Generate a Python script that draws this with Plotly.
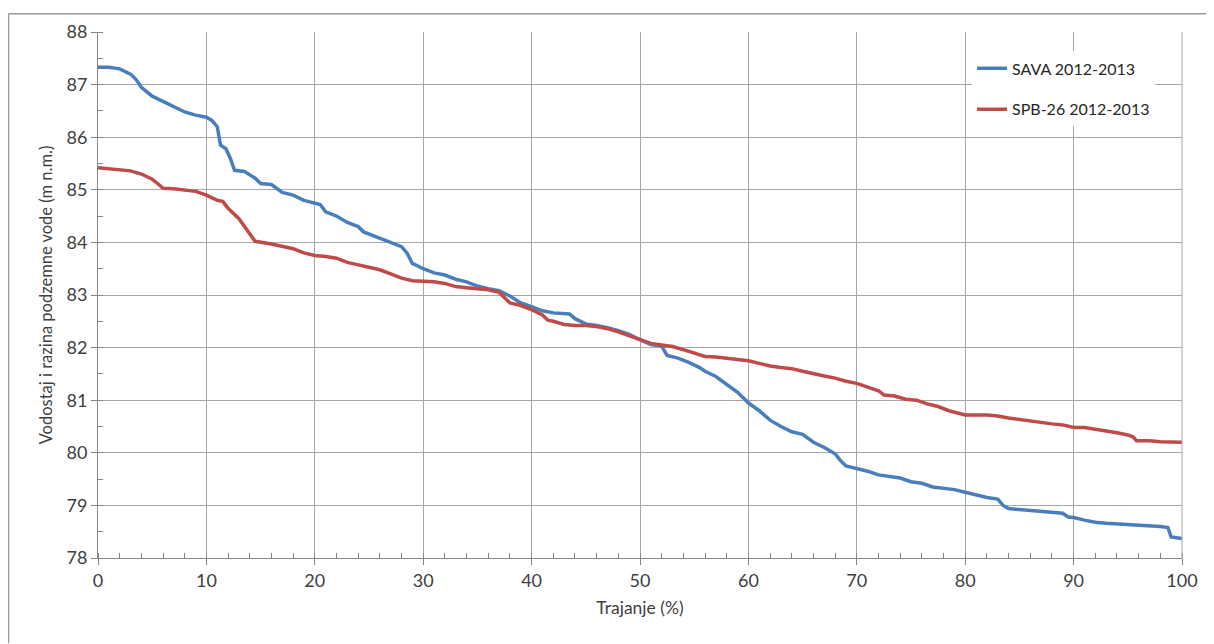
import plotly.graph_objects as go

# SAVA 2012-2013
sava_x = [0, 1, 2, 3, 3.5, 4, 5, 6, 7, 8, 9, 10, 10.5, 11, 11.3, 11.8, 12.2, 12.6, 13.5, 14.5,
          15, 16, 17, 18, 19, 20, 20.5, 21, 22, 23, 24, 24.5, 25.5, 27, 28, 28.5, 29, 30, 31, 32,
          33, 34, 35, 36, 37, 38, 39, 40, 41, 42, 43.5, 44, 45, 46, 47, 48, 49, 50, 51, 52,
          52.5, 53.5, 54.5, 55.5, 56, 57, 58, 59, 60, 61, 62, 63, 64, 65, 66, 67, 68, 68.5, 69, 70,
          71, 72, 73, 74, 75, 76, 77, 78, 79, 80, 81, 82, 83, 83.5, 84, 85, 86, 87, 88, 89,
          89.5, 90, 91, 92, 93, 94, 95, 96, 97, 98, 98.7, 99, 100]
sava_y = [87.33, 87.33, 87.30, 87.20, 87.10, 86.95, 86.78, 86.68, 86.58, 86.48, 86.42, 86.38, 86.32, 86.20, 85.85, 85.78, 85.60, 85.37, 85.35, 85.22,
          85.12, 85.10, 84.95, 84.90, 84.80, 84.75, 84.72, 84.58, 84.50, 84.38, 84.30, 84.20, 84.12, 84.00, 83.92, 83.80, 83.60, 83.50, 83.42, 83.38,
          83.30, 83.25, 83.17, 83.12, 83.08, 82.98, 82.85, 82.78, 82.70, 82.66, 82.64, 82.55, 82.45, 82.42, 82.38, 82.32, 82.25, 82.15, 82.06, 82.03,
          81.85, 81.80, 81.72, 81.62, 81.55, 81.45, 81.30, 81.15, 80.95, 80.80, 80.62, 80.50, 80.40, 80.35, 80.20, 80.10, 79.98, 79.85, 79.75, 79.70,
          79.65, 79.58, 79.55, 79.52, 79.45, 79.42, 79.35, 79.33, 79.30, 79.25, 79.20, 79.15, 79.12, 79.00, 78.94, 78.92, 78.90, 78.88, 78.87, 78.85,
          78.78, 78.77, 78.72, 78.68, 78.66, 78.65, 78.63, 78.62, 78.61, 78.60, 78.58, 78.40, 78.37]

# SPB-26 2012-2013
spb_x = [0, 1, 2, 3, 4, 5, 5.5, 6, 7, 8, 9, 10, 11, 11.5, 12, 13, 13.5, 14, 14.5, 16,
         17, 18, 19, 20, 21, 22, 23, 24, 25, 26, 27, 28, 29, 30, 31, 32, 33, 34, 35, 36,
         37, 37.5, 38, 39, 40, 41, 41.5, 42, 43, 44, 45, 46, 47, 48, 49, 50, 51, 52, 53, 54,
         55, 56, 57, 58, 59, 60, 61, 62, 63, 64, 65, 66, 67, 68, 69, 70, 71, 72, 72.5, 73.5,
         74.5, 75.5, 76.5, 77.5, 78.5, 79.5, 80, 82, 83, 84, 85, 86, 87, 88, 89, 89.8, 90, 91, 92, 92.5,
         94, 95, 95.5, 95.8, 97, 98, 100]
spb_y = [85.42, 85.40, 85.38, 85.36, 85.30, 85.20, 85.12, 85.03, 85.02, 85.00, 84.97, 84.90, 84.80, 84.78, 84.65, 84.45, 84.30, 84.15, 84.02, 83.97,
         83.92, 83.88, 83.80, 83.75, 83.73, 83.70, 83.62, 83.57, 83.53, 83.48, 83.40, 83.32, 83.27, 83.26, 83.25, 83.22, 83.16, 83.14, 83.12, 83.10,
         83.05, 82.95, 82.85, 82.80, 82.72, 82.62, 82.52, 82.50, 82.44, 82.42, 82.42, 82.40, 82.36, 82.30, 82.22, 82.15, 82.08, 82.05, 82.02, 81.96,
         81.90, 81.83, 81.82, 81.80, 81.78, 81.75, 81.70, 81.65, 81.62, 81.60, 81.55, 81.50, 81.46, 81.42, 81.36, 81.32, 81.25, 81.18, 81.10, 81.08,
         81.02, 81.00, 80.93, 80.88, 80.80, 80.75, 80.72, 80.72, 80.70, 80.66, 80.63, 80.60, 80.57, 80.55, 80.53, 80.50, 80.48, 80.48, 80.45, 80.42,
         80.38, 80.34, 80.30, 80.23, 80.23, 80.21, 80.20]

series_names = ["SAVA 2012-2013", "SPB-26 2012-2013"]
x_ticks = [0, 10, 20, 30, 40, 50, 60, 70, 80, 90, 100]
y_ticks = [78, 79, 80, 81, 82, 83, 84, 85, 86, 87, 88]

FONT = "Lato, 'Open Sans', sans-serif"
# page body has an 8px margin, so the figure is shrunk accordingly
W, H = 1206, 636
L, R, T, B = 90, 32, 19, 86
pw, ph = W - L - R, H - T - B

def px2paper(px, py):
    # px, py in figure coordinates
    return (px - L) / pw, 1 - (py - T) / ph

fig = go.Figure()
fig.add_trace(go.Scatter(x=sava_x, y=sava_y, mode="lines", name=series_names[0],
                         line=dict(color="#4A7EBB", width=3.5), legendgroup="a"))
fig.add_trace(go.Scatter(x=spb_x, y=spb_y, mode="lines", name=series_names[1],
                         line=dict(color="#BE4B48", width=3.5), legendgroup="b"))

# outer chart border (top and left visible)
x0, y0 = px2paper(0.5, H)
x1, y1 = px2paper(0.5, 0.5)
x2, _ = px2paper(W, 0.5)
fig.add_shape(type="line", xref="paper", yref="paper", x0=x0, y0=y0, x1=x1, y1=y1,
              line=dict(color="#9a9a9a", width=1.5))
fig.add_shape(type="line", xref="paper", yref="paper", x0=x1, y0=y1, x1=x2, y1=y1,
              line=dict(color="#9a9a9a", width=1.5))

fig.update_layout(
    width=W, height=H,
    margin=dict(l=L, r=R, t=T, b=B),
    paper_bgcolor="white", plot_bgcolor="white",
    font=dict(family=FONT, color="#404040"),
    showlegend=True,
    legend=dict(x=0.8063, y=0.963, xanchor="left", yanchor="top",
                bgcolor="white", font=dict(size=16, color="#262626", family=FONT),
                tracegroupgap=17, traceorder="grouped"),
    xaxis=dict(range=[0, 100], tickvals=x_ticks, showgrid=True, gridcolor="#a6a6a6", gridwidth=1,
               showline=True, linecolor="#868686", linewidth=1, zeroline=False,
               ticks="outside", ticklen=6, tickcolor="#868686",
               minor=dict(ticks="inside", ticklen=5, dtick=2, tickcolor="#868686", showgrid=False),
               tickfont=dict(size=18, color="#404040"),
               title=dict(text="Trajanje (%)", font=dict(size=17.5, color="#404040"), standoff=12)),
    yaxis=dict(range=[78, 88], tickvals=y_ticks, showgrid=True, gridcolor="#a6a6a6", gridwidth=1,
               showline=True, linecolor="#868686", linewidth=1, zeroline=False,
               ticks="outside", ticklen=6, tickcolor="#868686",
               minor=dict(ticks="inside", ticklen=5, dtick=0.5, tickcolor="#868686", showgrid=False),
               tickfont=dict(size=18, color="#404040"),
               title=dict(text="Vodostaj i razina podzemne vode (m n.m.)", font=dict(size=16.5, color="#404040"), standoff=9)),
)
# right border line of plot area
fig.add_shape(type="line", xref="paper", yref="paper", x0=1, y0=0, x1=1, y1=1,
              line=dict(color="#a6a6a6", width=1))

fig.write_html("out.html")
